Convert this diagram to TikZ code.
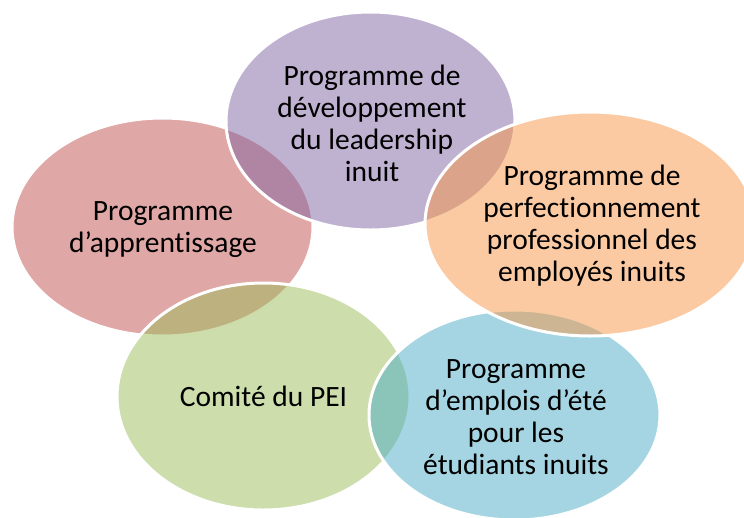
\documentclass[tikz,border=0pt]{standalone}
\usepackage{fontspec}
\setmainfont{Carlito}[Ligatures={NoCommon}]
\usetikzlibrary{shapes.geometric}
\definecolor{cpink}{RGB}{192,80,77}
\definecolor{cpurple}{RGB}{128,100,162}
\definecolor{corange}{RGB}{247,150,70}
\definecolor{cgreen}{RGB}{155,187,89}
\definecolor{cblue}{RGB}{75,172,198}
\begin{document}
\begin{tikzpicture}[x=1pt,y=-1pt,
  blob/.style={ellipse, draw=white, line width=3pt, fill opacity=0.5, draw opacity=1, inner sep=0pt, outer sep=0pt},
  txt/.style={align=center, font=\fontsize{29.5}{32}\selectfont, text=black, inner sep=0pt}]
\useasboundingbox (0,0) rectangle (744,517);
\clip (0,0) rectangle (744,517);
\node[blob, fill=cpink, minimum width=301pt, minimum height=218pt] (pink) at (162.5,227) {};
\node[blob, fill=cgreen, minimum width=293pt, minimum height=227pt] (green) at (263.5,396.5) {};
\node[blob, fill=cblue, minimum width=291pt, minimum height=210pt] (blue) at (514.5,415) {};
\node[blob, fill=cpurple, minimum width=289pt, minimum height=218pt] (purple) at (370.5,121) {};
\node[blob, fill=corange, minimum width=330pt, minimum height=224pt] (orange) at (590,224) {};
\node[txt] (tpink) at (163,230) {Programme\\d’apprentissage};
\node[txt] (tpurple) at (372,123) {Programme de\\développement\\du leadership\\inuit};
\node[txt] (torange) at (592,226) {Programme de\\perfectionnement\\professionnel des\\employés inuits};
\node[txt] (tgreen) at (263.5,396) {Comité du PEI};
\node[txt] (tblue) at (516,417) {Programme\\d’emplois d’été\\pour les\\étudiants inuits};
\end{tikzpicture}
\end{document}
